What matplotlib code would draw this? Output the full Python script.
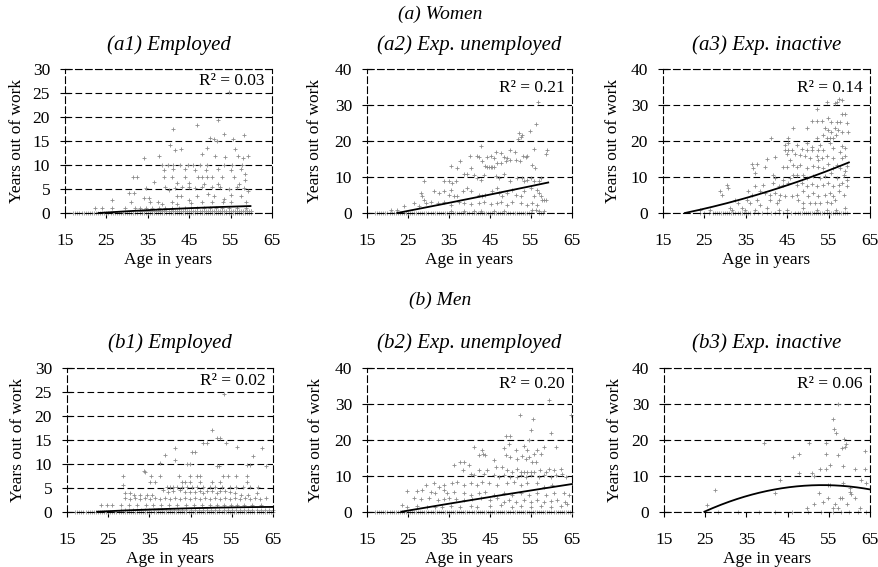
import numpy as np
import matplotlib
matplotlib.use("Agg")
import matplotlib.pyplot as plt

plt.rcParams["font.family"] = ["Liberation Serif", "DejaVu Serif"]
plt.rcParams["font.size"] = 12.5

# ---------------------------------------------------------------- data
x_ticks = [15, 25, 35, 45, 55, 65]

# (a1) Women, employed
a1_points = [
    (54.5, 25.4), (51.9, 19.4), (46.8, 18.5), (41.2, 17.5), (53.3, 16.6), (58.2, 16.4),
    (50.0, 15.6), (50.9, 15.4), (51.7, 15.0), (55.6, 15.4), (40.4, 14.3), (42.9, 13.3),
    (41.5, 13.1), (49.3, 13.5), (48.1, 12.3), (51.3, 12.0), (53.7, 11.8), (56.0, 13.3),
    (56.8, 12.0), (58.0, 11.5), (59.2, 12.0), (37.6, 11.9), (34.2, 11.5),
    (38.4, 10.0), (39.8, 10.0), (41.2, 10.0), (42.8, 10.0), (44.6, 10.0), (46.0, 10.0),
    (47.5, 10.0), (49.2, 10.0), (53.5, 10.0), (55.4, 10.0), (57.8, 10.0),
    (39.0, 9.0), (41.0, 9.2), (44.0, 9.1), (46.5, 9.0), (49.0, 9.0), (52.0, 9.2),
    (55.0, 9.0), (57.5, 9.1), (58.5, 8.2),
    (31.5, 7.5), (32.3, 7.5), (38.8, 7.5), (40.8, 7.5), (44.0, 7.5), (47.2, 7.5),
    (48.0, 7.5), (49.2, 7.5), (50.5, 7.5), (53.0, 7.5), (55.8, 7.5), (58.5, 7.0),
    (36.5, 6.5), (42.0, 6.2), (45.0, 6.2), (48.5, 6.0), (52.0, 6.0), (57.0, 6.0),
    (34.5, 5.3), (39.2, 5.5), (40.0, 4.8), (41.6, 5.2), (43.3, 5.5), (44.9, 5.5),
    (46.5, 5.2), (48.1, 5.5), (50.5, 5.5), (52.5, 5.5), (54.5, 5.0), (56.6, 5.5),
    (58.2, 5.3), (59.2, 4.5),
    (30.5, 4.2), (31.6, 4.2), (34.0, 3.2), (35.3, 3.1), (42.1, 3.5), (43.0, 3.5),
    (47.0, 3.5), (49.5, 4.0), (51.0, 3.5), (53.5, 3.0), (55.0, 3.8), (57.5, 3.5),
    (26.4, 2.8), (31.0, 2.2), (35.6, 2.2), (37.5, 2.2), (38.4, 1.8), (40.8, 2.2),
    (42.1, 1.8), (44.9, 2.7), (45.5, 2.0), (48.0, 2.2), (50.6, 2.2), (53.2, 2.2),
    (55.0, 2.2), (58.7, 2.2),
    (22.3, 1.0), (23.9, 1.0), (26.4, 1.0), (29.5, 1.0), (32.0, 1.0), (33.0, 1.0),
    (34.6, 1.0), (36.0, 1.0), (37.6, 1.0), (39.2, 1.0), (40.8, 1.0), (42.5, 1.0),
    (44.0, 1.0), (45.5, 1.0), (47.0, 1.0), (48.5, 1.0), (50.0, 1.0), (51.5, 1.0),
    (53.0, 1.0), (54.5, 1.0), (56.5, 1.0), (58.8, 1.0), (60.0, 0.5),
]
a1_zero_ages = [17, 17.5, 18, 18.5, 19, 19.5, 20, 20.5, 21, 21.5, 22, 22.5, 23, 23.5, 24,
                24.5, 25, 25.5, 26, 26.5, 27, 27.5, 28, 28.5, 29, 29.5, 30, 30.5, 31, 31.5,
                32, 32.5, 33, 33.5, 34, 34.5, 35, 35.5, 36, 36.5, 37, 37.5, 38, 38.5, 39,
                39.5, 40, 40.5, 41, 41.5, 42, 42.5, 43, 43.5, 44, 44.5, 45, 45.5, 46, 46.5,
                47, 47.5, 48, 48.5, 49, 49.5, 50, 50.5, 51, 51.5, 52, 52.5, 53, 53.5, 54,
                54.5, 55, 55.5, 56, 56.5, 57, 57.5, 58, 58.5, 59, 59.5, 60]
a1_fit_age = [23.1, 38.4, 59.8]
a1_fit_yrs = [0.0, 0.75, 1.45]
a1_r2 = 0.03

# (a2) Women, expected unemployed
a2_points = [
    (56.7, 31.0), (56.1, 24.7), (54.7, 22.9), (52.1, 22.2), (51.8, 20.6), (52.5, 21.3),
    (52.9, 21.8), (42.7, 18.8), (40.1, 16.0), (41.9, 16.0), (42.3, 15.7), (44.3, 15.7),
    (45.2, 16.0), (46.4, 17.1), (46.0, 15.3), (47.6, 16.7), (48.4, 15.7), (50.0, 17.6),
    (51.0, 17.1), (53.1, 16.0), (53.7, 15.5), (54.1, 16.0), (55.7, 17.9), (59.0, 17.6),
    (58.6, 16.4),
    (37.8, 14.4), (40.3, 12.5), (43.1, 14.4), (43.9, 13.0), (44.3, 12.7), (44.7, 12.7),
    (45.2, 12.7), (45.6, 12.7), (46.0, 12.7), (46.8, 13.9), (47.6, 13.9), (48.8, 14.4),
    (49.2, 15.3), (50.0, 14.8), (51.3, 14.8), (52.2, 14.4), (55.3, 13.4), (55.9, 12.5),
    (35.4, 13.0), (37.0, 12.5),
    (38.7, 10.8), (39.5, 10.8), (33.8, 8.8), (35.0, 8.8), (35.8, 8.3), (36.6, 8.8),
    (28.9, 8.8), (41.1, 10.6), (41.9, 9.7), (42.7, 9.3), (43.5, 10.6), (46.4, 10.2),
    (47.2, 9.7), (48.3, 10.8), (50.0, 8.8), (51.7, 9.7), (52.9, 9.7), (53.3, 8.8),
    (54.1, 9.3), (54.9, 9.7), (55.7, 8.8), (57.0, 8.8), (57.4, 9.7),
    (31.3, 6.0), (32.6, 5.6), (33.8, 6.0), (35.0, 5.1), (35.4, 6.5), (36.2, 4.6),
    (37.0, 4.6), (38.3, 6.0), (39.5, 6.9), (40.3, 6.0), (42.3, 5.1), (43.1, 4.6),
    (43.9, 5.1), (45.6, 6.0), (46.8, 6.9), (47.2, 5.6), (48.0, 4.6), (49.2, 5.6),
    (50.4, 6.5), (51.3, 5.1), (52.5, 4.6), (53.3, 6.0), (54.9, 6.9), (55.7, 4.6),
    (56.5, 6.5), (57.0, 5.6), (57.4, 4.6), (57.8, 3.7), (58.2, 3.7), (58.6, 3.7),
    (28.1, 5.6), (28.5, 4.6), (28.9, 3.7),
    (24.0, 1.9), (26.5, 2.8), (27.7, 1.9), (29.3, 2.8), (30.5, 3.2), (32.2, 2.8),
    (33.8, 3.2), (35.4, 2.3), (37.4, 3.2), (38.7, 2.8), (40.3, 2.5), (42.3, 2.8),
    (43.5, 3.2), (45.2, 2.5), (46.8, 2.8), (47.6, 3.2), (49.2, 2.3), (50.4, 3.2),
    (52.5, 2.8), (54.1, 2.3), (55.3, 2.8), (56.5, 2.3),
    (20.8, 0.9), (22.4, 0.9), (35.4, 0.6), (38.7, 0.6), (41.1, 0.6), (42.7, 0.6),
    (46.0, 0.6), (48.4, 0.6), (55.3, 0.9), (56.1, 0.9), (56.9, 0.6), (58.2, 0.6),
]
a2_zero_ages = [17, 17.5, 18, 18.5, 19, 19.5, 20, 20.5, 21, 21.5, 22, 22.5, 23, 23.5, 24,
                24.5, 25, 25.5, 26, 26.5, 27, 27.5, 28, 28.5, 29, 29.5, 30, 30.5, 31, 31.5,
                32, 32.5, 33, 33.5, 34, 34.5, 35, 35.5, 36, 36.5, 37, 37.5, 38, 38.5, 39,
                39.5, 40, 40.5, 41, 41.5, 42, 42.5, 43, 43.5, 44, 44.5, 45, 45.5, 46, 46.5,
                47, 47.5, 48, 48.5, 49, 49.5, 50, 50.5, 51, 51.5, 52, 52.5, 53, 53.5, 54,
                54.5, 55, 57, 57.5, 58]
a2_fit_age = [22.4, 42.7, 59.2]
a2_fit_yrs = [0.0, 4.6, 8.5]
a2_r2 = 0.21

# (a3) Women, expected inactive
a3_points = [
    (52.1, 29.0), (54.5, 31.0), (57.0, 31.0), (57.4, 31.8), (58.2, 31.5), (56.5, 30.6),
    (50.9, 25.7), (52.1, 25.7), (53.3, 25.7), (54.9, 26.4), (55.7, 25.5), (58.2, 27.6),
    (59.0, 27.6), (57.0, 25.5), (57.8, 25.5),
    (46.5, 23.8), (49.7, 23.8), (54.1, 23.8), (54.9, 23.1), (55.7, 22.7), (56.5, 23.8),
    (57.3, 23.1), (58.2, 22.7), (59.4, 25.0), (59.8, 22.7),
    (53.7, 21.8), (54.5, 20.8), (55.3, 20.8), (56.1, 20.8), (56.9, 21.8), (41.2, 20.8),
    (45.3, 20.8), (52.1, 20.8),
    (44.5, 19.0), (45.3, 19.4), (47.3, 19.0), (49.7, 19.4), (50.9, 18.5), (52.9, 19.0),
    (55.3, 19.4), (56.1, 18.1), (58.2, 18.8),
    (44.5, 17.6), (45.3, 17.6), (46.1, 17.6), (48.5, 17.9), (49.7, 17.6), (50.9, 17.6),
    (52.5, 17.6), (53.7, 17.6), (57.8, 17.1), (59.0, 18.1),
    (45.0, 16.4), (47.0, 16.4), (48.1, 16.2), (49.3, 16.0), (52.1, 16.0), (53.3, 15.3),
    (54.5, 16.0),
    (40.0, 15.1), (42.0, 15.7), (45.7, 14.8), (50.5, 15.3), (52.5, 14.8), (56.1, 15.3),
    (58.2, 15.3), (59.0, 16.0),
    (36.4, 13.6), (37.6, 13.6), (36.8, 12.5), (37.2, 11.1), (39.6, 12.7), (44.1, 12.7),
    (44.9, 12.7), (46.5, 13.4), (47.3, 12.7), (48.1, 13.4), (49.7, 12.5), (51.3, 13.0),
    (52.5, 12.7), (53.7, 12.5), (54.9, 13.6), (56.1, 12.5), (57.0, 13.4), (57.8, 12.5),
    (59.0, 11.8), (59.4, 13.0),
    (41.6, 10.6), (42.0, 9.7), (44.1, 9.3), (45.7, 9.7), (46.5, 10.6), (47.3, 10.6),
    (48.9, 10.6), (49.7, 9.7), (51.3, 10.2), (52.9, 9.7), (54.1, 10.2), (55.7, 11.1),
    (57.0, 9.7), (58.6, 10.6), (59.4, 9.3),
    (37.2, 7.4), (39.2, 7.9), (41.6, 8.3), (42.9, 7.4), (44.1, 7.9), (45.3, 8.3),
    (47.3, 7.9), (48.5, 8.3), (49.7, 7.4), (50.9, 8.1), (52.1, 7.4), (53.7, 7.9),
    (54.9, 8.3), (56.1, 7.4), (57.4, 7.9), (58.2, 8.3), (59.4, 7.4),
    (28.8, 6.0), (29.2, 5.1), (30.4, 7.9), (30.8, 6.9), (35.6, 6.0), (36.4, 5.1),
    (38.4, 6.0), (39.6, 5.6), (40.8, 5.1), (42.0, 5.6), (43.3, 5.1), (44.5, 4.6),
    (46.1, 4.6), (47.3, 5.1), (48.9, 6.0), (50.1, 4.6), (51.3, 5.6), (52.5, 4.6),
    (54.1, 5.1), (55.3, 5.6), (56.1, 4.6), (57.4, 6.0), (58.6, 5.1),
    (32.4, 3.7), (33.2, 2.8), (35.2, 3.7), (36.0, 2.8), (37.6, 3.7), (38.4, 2.3),
    (40.8, 3.7), (42.5, 2.8), (42.9, 3.7), (47.7, 3.7), (48.9, 2.8), (50.5, 2.8),
    (51.7, 2.8), (52.9, 2.8), (54.5, 3.2), (55.7, 2.8), (56.5, 3.7),
    (24.0, 0.9), (26.4, 0.9), (31.2, 1.4), (31.6, 0.9), (34.0, 1.4), (34.8, 0.9),
    (37.2, 0.9), (40.0, 1.4), (42.9, 0.9), (44.9, 0.9), (48.9, 1.4), (52.1, 0.9),
    (54.5, 0.9), (56.9, 0.9), (58.9, 1.4),
]
a3_zero_ages = [24, 25, 26, 27, 27.5, 28, 28.5, 29, 29.5, 30, 30.5, 31, 31.5, 32, 32.5, 33,
                33.5, 34, 34.5, 35, 35.5, 36, 37, 38, 39, 40, 41, 42, 43, 44, 45, 46, 47,
                47.5, 48, 48.5, 49, 49.5, 50, 50.5, 51, 51.5, 52, 52.5, 53, 53.5, 54, 54.5,
                55, 55.5, 56, 56.5, 57, 57.5, 58, 58.5, 59, 59.5]
a3_fit_age = [20.3, 42.0, 59.9]
a3_fit_yrs = [0.0, 6.6, 14.1]
a3_r2 = 0.14

# (b1) Men, employed
b1_points = [
    (53.1, 24.5), (50.1, 17.1), (51.3, 15.4), (52.1, 15.4), (48.1, 14.3), (49.0, 14.3),
    (53.7, 14.3), (56.2, 13.5), (62.4, 13.4), (41.3, 13.4), (38.9, 11.9), (60.2, 11.7),
    (45.3, 12.4), (46.1, 12.4),
    (37.6, 10.1), (41.3, 10.7), (44.1, 10.0), (44.9, 10.0), (51.3, 9.6), (51.9, 9.6),
    (58.6, 9.8), (59.4, 9.8), (63.2, 9.6), (33.6, 8.6), (34.0, 8.2),
    (28.6, 7.5), (35.4, 7.5), (37.6, 7.5), (42.1, 7.5), (44.9, 7.5), (46.5, 7.5),
    (47.3, 7.5), (52.9, 7.5), (54.1, 7.5), (56.1, 7.5), (58.6, 7.5),
    (42.9, 6.3), (43.7, 6.3), (44.9, 6.3), (47.3, 6.3), (50.1, 6.3), (52.1, 6.3),
    (58.6, 6.3), (28.6, 5.6), (35.2, 6.3), (36.4, 6.3),
    (39.2, 5.2), (40.0, 5.2), (40.8, 5.2), (41.6, 5.2), (42.9, 5.2), (44.1, 5.2),
    (45.3, 5.2), (46.5, 5.2), (48.1, 5.2), (49.7, 5.2), (50.9, 5.2), (52.5, 5.2),
    (54.5, 5.2), (56.1, 5.2), (57.8, 5.2), (59.4, 5.2), (61.4, 5.2),
    (29.1, 3.8), (30.4, 3.8), (31.2, 3.5), (32.8, 3.5), (34.4, 3.5), (35.6, 3.5),
    (38.4, 4.5), (39.6, 4.2), (40.8, 4.4), (42.5, 4.5), (43.7, 4.2), (44.9, 4.2),
    (46.1, 4.2), (47.3, 4.4), (48.1, 4.0), (48.9, 4.4), (50.1, 4.4), (51.3, 4.0),
    (52.1, 4.4), (53.3, 4.4), (54.5, 4.2), (55.7, 3.8), (57.3, 3.5), (59.0, 3.5),
    (61.0, 3.8),
    (29.1, 2.8), (30.4, 2.6), (31.6, 2.8), (32.8, 2.6), (34.0, 2.8), (35.2, 2.6),
    (36.4, 2.8), (37.6, 2.6), (38.9, 2.8), (40.1, 2.6), (41.3, 2.8), (42.5, 2.6),
    (43.7, 2.8), (44.9, 2.6), (46.1, 2.8), (47.3, 2.6), (48.5, 2.8), (49.7, 2.6),
    (50.9, 2.8), (52.1, 2.6), (53.3, 2.8), (54.5, 2.6), (55.7, 2.8), (56.9, 2.6),
    (58.1, 2.8), (59.4, 2.6), (60.6, 2.8), (61.8, 2.6), (63.4, 2.8),
    (23.2, 1.5), (24.8, 1.5), (26.0, 1.5), (28.1, 1.5), (30.1, 1.5), (32.1, 1.5),
    (34.2, 1.5), (35.8, 1.5), (37.8, 1.5), (39.8, 1.5), (41.8, 1.5), (43.8, 1.5),
    (45.8, 1.5), (47.8, 1.5), (49.8, 1.5), (51.5, 1.5), (53.1, 1.5), (54.7, 1.5),
    (56.3, 1.5), (57.9, 1.5), (59.9, 1.5), (62.0, 1.5),
]
b1_zero_ages = [17, 17.5, 18, 18.5, 19, 19.5, 20, 20.5, 21, 21.5, 22, 22.5, 23, 23.5, 24,
                24.5, 25, 25.5, 26, 26.5, 27, 27.5, 28, 28.5, 29, 29.5, 30, 30.5, 31, 31.5,
                32, 32.5, 33, 33.5, 34, 34.5, 35, 35.5, 36, 36.5, 37, 37.5, 38, 38.5, 39,
                39.5, 40, 40.5, 41, 41.5, 42, 42.5, 43, 43.5, 44, 44.5, 45, 45.5, 46, 46.5,
                47, 47.5, 48, 48.5, 49, 49.5, 50, 50.5, 51, 51.5, 52, 52.5, 53, 53.5, 54,
                54.5, 55, 55.5, 56, 56.5, 57, 57.5, 58, 58.5, 59, 59.5, 60, 60.5, 61, 61.5,
                62, 62.5, 63, 63.5, 64, 64.5, 65]
b1_band_ages = [28, 29, 30, 31, 32, 33, 34, 35, 36, 37, 38, 39, 40, 41, 42, 43, 44, 45, 46,
                47, 48, 49, 50, 51, 52, 53, 54, 55, 56, 57, 58, 59, 60, 61, 62, 63, 64, 65]
b1_fit_age = [22.3, 44.0, 65.0]
b1_fit_yrs = [0.0, 0.7, 1.0]
b1_r2 = 0.02

# (b2) Men, expected unemployed
b2_points = [
    (59.4, 31.0), (52.3, 26.9), (55.5, 25.9), (64.7, 26.9), (54.9, 22.7), (60.0, 21.9),
    (48.8, 21.0), (49.8, 21.0), (54.5, 19.9), (41.1, 18.1), (58.2, 18.1), (61.0, 18.1),
    (43.1, 17.1), (43.3, 16.0), (48.4, 17.6), (49.6, 18.8), (51.3, 17.1), (53.3, 18.2),
    (54.1, 17.1), (55.7, 16.2), (56.5, 17.1), (57.4, 16.0),
    (42.3, 15.7), (43.9, 15.7), (48.8, 15.7), (50.0, 15.3), (51.7, 14.8), (52.9, 15.5),
    (53.7, 14.8), (54.5, 15.3), (55.3, 13.9), (56.1, 13.9),
    (36.2, 13.0), (37.8, 13.9), (38.7, 13.9), (39.9, 13.0), (46.0, 14.4), (46.4, 12.5),
    (42.3, 11.6), (43.5, 10.6), (44.3, 11.6), (48.0, 12.5), (49.2, 11.6), (50.4, 11.1),
    (51.7, 12.0),
    (52.5, 11.1), (53.3, 11.1), (54.1, 11.1), (54.9, 11.1), (55.7, 11.1), (57.1, 11.6),
    (58.6, 11.1), (59.4, 12.0), (60.6, 11.6), (62.2, 12.0), (38.3, 11.6), (40.3, 10.6),
    (41.1, 10.2),
    (46.0, 10.2), (47.2, 9.7), (48.4, 10.2), (50.0, 9.7), (51.7, 9.7), (52.5, 10.2),
    (53.7, 9.7), (54.9, 10.2), (57.0, 9.7), (58.2, 10.2), (59.8, 9.7), (61.0, 10.2),
    (62.6, 10.6), (63.5, 9.7),
    (29.3, 7.4), (31.3, 7.9), (32.6, 6.9), (33.8, 7.4), (35.8, 7.9), (37.0, 8.3),
    (38.7, 7.4), (40.3, 7.9), (41.9, 7.4), (43.1, 8.3), (44.7, 7.9), (46.8, 7.4),
    (49.2, 7.9), (50.9, 8.3), (52.5, 7.4), (54.1, 7.9), (56.5, 7.9), (58.2, 6.9),
    (60.2, 7.4),
    (24.8, 5.8), (27.3, 5.8), (28.5, 6.0), (30.5, 5.6), (31.7, 5.1), (33.8, 6.0),
    (34.6, 5.1), (36.2, 5.6),
    (38.7, 5.1), (40.3, 4.6), (42.3, 5.1), (43.9, 5.6), (45.9, 4.6), (48.4, 5.1),
    (50.4, 4.6), (52.5, 5.1), (54.5, 4.6), (56.5, 5.1), (58.6, 4.6), (60.6, 5.3),
    (63.0, 5.1), (64.2, 4.6),
    (26.5, 3.7), (28.1, 3.4), (30.1, 3.7), (32.2, 3.2), (33.8, 3.4), (35.0, 3.7),
    (36.6, 3.4), (38.7, 3.2), (40.7, 3.4), (42.7, 3.7), (45.1, 3.2), (46.8, 3.7),
    (48.4, 2.8), (49.6, 3.2), (51.3, 2.8), (53.3, 3.2), (54.9, 2.8), (56.5, 3.2),
    (58.2, 2.8), (59.8, 3.0), (61.4, 3.2), (63.4, 2.8),
    (23.6, 1.9), (24.8, 1.4), (27.3, 1.6), (29.7, 1.4), (31.7, 1.2), (33.4, 1.2),
    (35.4, 1.6), (37.8, 1.4), (40.3, 1.6), (41.9, 1.4), (45.1, 1.6), (47.6, 1.9),
    (50.4, 1.4), (52.5, 1.6), (54.9, 1.4), (57.4, 1.6), (59.8, 1.4), (62.2, 1.6),
    (63.8, 2.1),
]
b2_zero_ages = b1_zero_ages
b2_fit_age = [23.4, 45.0, 65.0]
b2_fit_yrs = [0.0, 4.1, 7.7]
b2_r2 = 0.20

# (b3) Men, expected inactive
b3_points = [
    (25.4, 2.0), (27.4, 6.0), (39.3, 19.0), (46.4, 15.1), (47.8, 16.0), (47.8, 10.8),
    (43.2, 8.8), (41.9, 5.1), (49.6, 0.9), (50.3, 19.0), (50.9, 10.8), (51.4, 9.9),
    (51.4, 2.1), (52.9, 11.8), (52.5, 5.1), (53.7, 2.8), (54.3, 19.0), (54.3, 16.0),
    (54.3, 11.8), (54.7, 7.4), (55.3, 7.4), (55.3, 13.0), (54.7, 3.7), (55.9, 25.9),
    (56.3, 22.9), (56.7, 21.8), (56.1, 0.9), (56.5, 2.1), (57.3, 0.9), (57.2, 29.9),
    (57.3, 15.7), (58.1, 17.6), (57.7, 3.7), (58.1, 3.7), (58.8, 20.1), (59.2, 18.8),
    (59.0, 17.9), (58.5, 12.7), (58.5, 7.9), (60.1, 6.5), (60.1, 5.6), (60.3, 4.9),
    (59.4, 2.1), (61.4, 12.0), (61.4, 3.7), (62.6, 0.9), (62.8, 8.8), (63.8, 16.9),
    (63.8, 12.0), (64.0, 7.9),
]
b3_zero_ages = [28, 33, 38, 42, 46, 50, 53, 56, 58, 60, 62, 64]
b3_fit_age = [24.8, 54.0, 65.0]
b3_fit_yrs = [0.0, 7.4, 6.2]
b3_r2 = 0.06

# ---------------------------------------------------------------- layout
W, H = 879, 567
fig = plt.figure(figsize=(W / 100, H / 100), dpi=100)

DASH = (0, (6, 3))
PT_COLOR = "#8c8c8c"
ZERO_COLOR = "#999999"
MK = dict(marker="+", s=5, linewidths=0.6, clip_on=False, zorder=2)


def box(left, right, top, bottom):
    return [left / W, 1 - bottom / H, (right - left) / W, (bottom - top) / H]


panels = [
    dict(rect=box(65, 272, 69.5, 213), ymax=30, pts=a1_points, zero=a1_zero_ages,
         band=[a for a in a1_zero_ages if a >= 33], fit=(a1_fit_age, a1_fit_yrs),
         r2=a1_r2, title="(a1) Employed", r2y=0.918, ylab=-0.232),
    dict(rect=box(367, 572, 69.5, 213), ymax=40, pts=a2_points, zero=a2_zero_ages,
         band=[], fit=(a2_fit_age, a2_fit_yrs), r2=a2_r2,
         title="(a2) Exp. unemployed", r2y=0.868, ylab=-0.254),
    dict(rect=box(663, 870, 69.5, 213), ymax=40, pts=a3_points, zero=a3_zero_ages,
         band=[], fit=(a3_fit_age, a3_fit_yrs), r2=a3_r2,
         title="(a3) Exp. inactive", r2y=0.868, ylab=-0.242),
    dict(rect=box(67, 273, 368, 511.7), ymax=30, pts=b1_points, zero=b1_zero_ages,
         band=b1_band_ages, fit=(b1_fit_age, b1_fit_yrs), r2=b1_r2,
         title="(b1) Employed", r2y=0.909, ylab=-0.24),
    dict(rect=box(367, 572, 368, 511.7), ymax=40, pts=b2_points, zero=b2_zero_ages,
         band=[], fit=(b2_fit_age, b2_fit_yrs), r2=b2_r2,
         title="(b2) Exp. unemployed", r2y=0.887, ylab=-0.25),
    dict(rect=box(664, 870, 368, 511.7), ymax=40, pts=b3_points, zero=b3_zero_ages,
         band=[], fit=(b3_fit_age, b3_fit_yrs), r2=b3_r2,
         title="(b3) Exp. inactive", r2y=0.887, ylab=-0.24),
]

for p in panels:
    ax = fig.add_axes(p["rect"])
    ax.set_xlim(15, 65)
    ax.set_ylim(0, p["ymax"])
    ax.set_xticks(x_ticks)
    step = 5 if p["ymax"] == 30 else 10
    ax.set_yticks(list(range(0, p["ymax"] + 1, step)))

    for s in ax.spines.values():
        s.set_linestyle(DASH)
        s.set_linewidth(0.8)
        s.set_color("black")
    ax.yaxis.grid(True, linestyle=DASH, color="black", linewidth=0.8)
    ax.set_axisbelow(True)

    ax.tick_params(axis="y", direction="inout", length=6.5, width=0.8, pad=7.5,
                   labelsize=12.5)
    ax.tick_params(axis="x", direction="out", length=3.6, width=0.8, pad=11,
                   labelsize=12.5)

    pts = np.array(p["pts"])
    ax.scatter(pts[:, 0], pts[:, 1], color=PT_COLOR, **MK)
    zero = np.array(p["zero"], dtype=float)
    ax.scatter(zero, np.zeros_like(zero), color=ZERO_COLOR, **MK)
    if p["band"]:
        band = np.array(p["band"], dtype=float)
        ax.scatter(band, np.full_like(band, 0.4), color=ZERO_COLOR, **MK)

    fa, fy = p["fit"]
    coef = np.polyfit(fa, fy, 2)
    xs = np.linspace(fa[0], fa[-1], 200)
    ax.plot(xs, np.polyval(coef, xs), color="black", lw=1.3, zorder=3,
            clip_on=False)

    ax.text(0.965, p["r2y"], f"R\u00b2 = {p['r2']:.2f}", transform=ax.transAxes,
            ha="right", va="center", fontsize=12.5)

    ax.set_ylabel("Years out of work", fontsize=12.5, va="center")
    ax.yaxis.set_label_coords(p["ylab"], 0.5)
    ax.set_xlabel("Age in years", fontsize=12.5, va="center")
    ax.xaxis.set_label_coords(0.5, -0.33)

    l, b, w, h = p["rect"]
    fig.text(l + w / 2, b + h + 24.5 / H, p["title"], ha="center", va="center",
             fontsize=15, style="italic")

fig.text(440 / W, 1 - 14 / H, "(a) Women", ha="center", va="center", fontsize=14,
         style="italic")
fig.text(440 / W, 1 - 300 / H, "(b) Men", ha="center", va="center", fontsize=14,
         style="italic")

fig.savefig("out.png", dpi=100)
